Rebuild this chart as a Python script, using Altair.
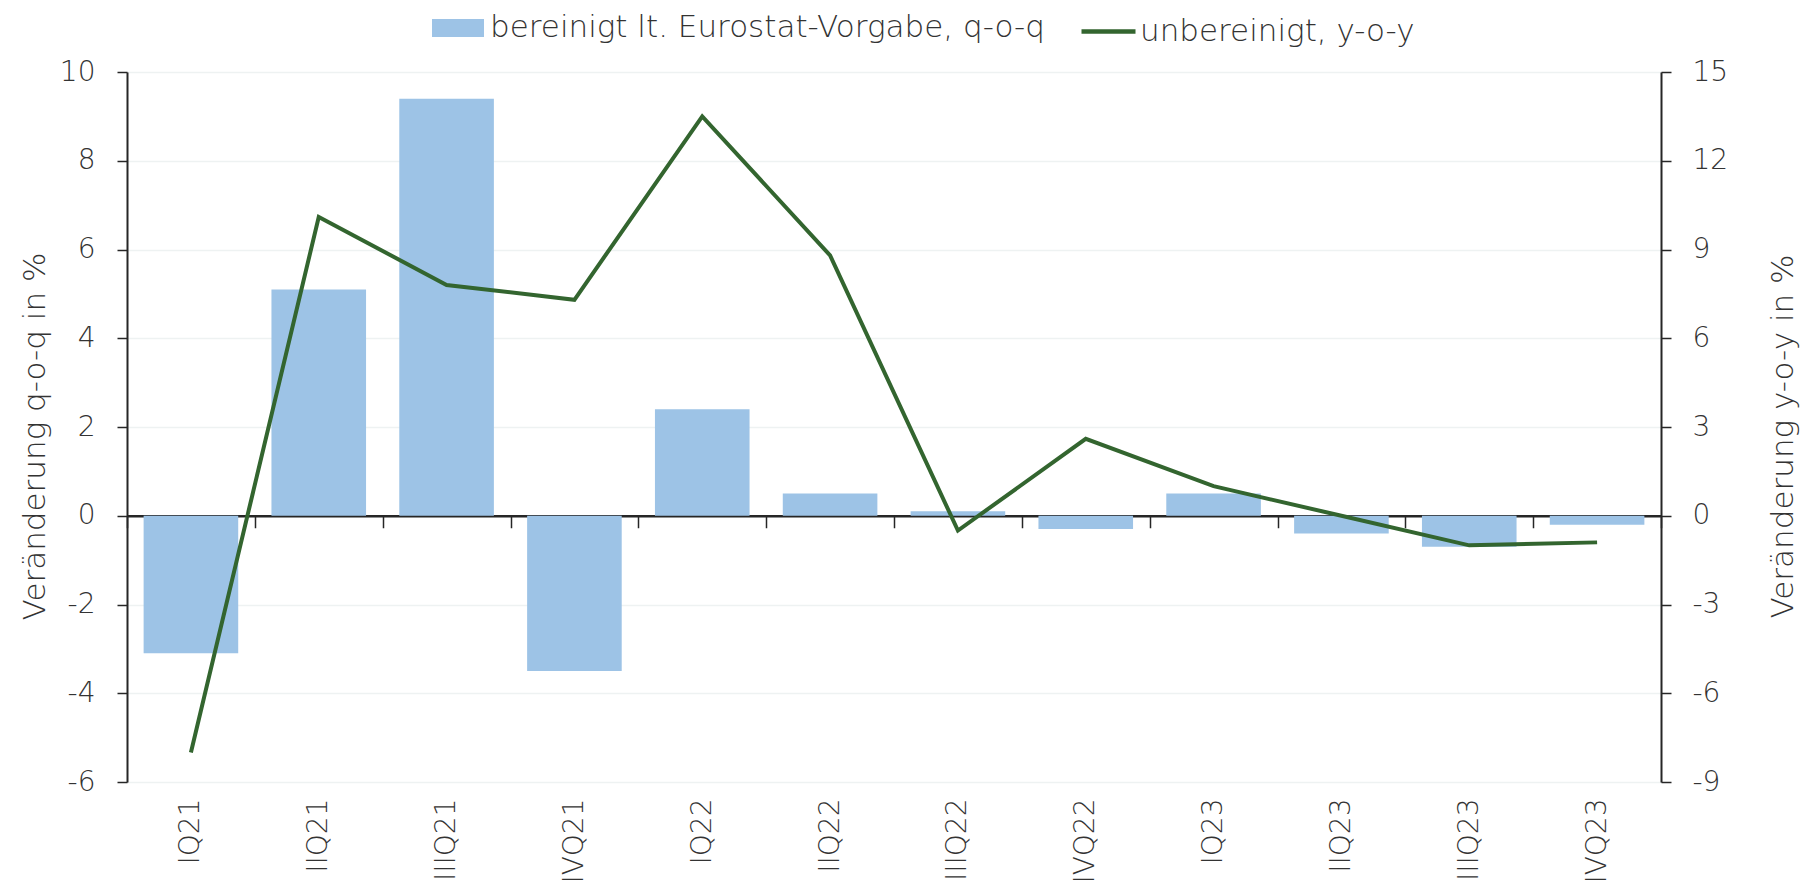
import altair as alt
import pandas as pd

quarters = ["IQ21", "IIQ21", "IIIQ21", "IVQ21", "IQ22", "IIQ22",
            "IIIQ22", "IVQ22", "IQ23", "IIQ23", "IIIQ23", "IVQ23"]
qoq = [-3.1, 5.1, 9.4, -3.5, 2.4, 0.5, 0.1, -0.3, 0.5, -0.4, -0.7, -0.2]
yoy = [-8.0, 10.1, 7.8, 7.3, 13.5, 8.8, -0.5, 2.6, 1.0, 0.0, -1.0, -0.9]
left_ticks = [-6, -4, -2, 0, 2, 4, 6, 8, 10]
right_ticks = [-9, -6, -3, 0, 3, 6, 9, 12, 15]
bar_name = "bereinigt lt. Eurostat-Vorgabe, q-o-q"
line_name = "unbereinigt, y-o-y"
left_title = "Veränderung q-o-q in %"
right_title = "Veränderung y-o-y in %"

df = pd.DataFrame({"q": quarters, "qoq": qoq, "yoy": yoy,
                   "bar": bar_name, "line": line_name})

FONT = "DejaVu Sans"
FW = 200
TXT = "#333333"
AX = "#262626"
BAR = "#9DC3E6"
LINE = "#33652F"
W, H = 1534, 710
FS = 28
LFS = 31
TFS = 31

x_enc = alt.X(
    "q:N", sort=quarters,
    scale=alt.Scale(paddingInner=0, paddingOuter=0),
    axis=alt.Axis(
        title=None, labelAngle=270, labelAlign="right", labelBaseline="middle",
        offset=-(H * 6 / 16), tickBand="extent", tickSize=12, tickWidth=1.5,
        tickColor=AX, domainColor=AX, domainWidth=2.5,
        labelPadding=H * 6 / 16 - 12 + 20 - 4, labelFont=FONT, labelFontSize=FS,
        labelFontWeight=FW, labelColor=TXT, grid=False,
    ),
)

bars = alt.Chart(df).mark_bar(width=alt.RelativeBandSize(0.74)).encode(
    x=x_enc,
    y=alt.Y("qoq:Q",
            scale=alt.Scale(domain=[-6, 10], nice=False, zero=False),
            axis=alt.Axis(values=left_ticks, title=left_title, orient="left",
                          labelExpr="'' + datum.value",
                          grid=True, gridColor="#EEF2F2", gridWidth=1.5,
                          tickSize=10, tickWidth=1.5, tickColor=AX,
                          domainColor=AX, domainWidth=2,
                          labelPadding=22, labelFont=FONT, labelFontSize=FS,
                          labelFontWeight=FW, labelColor=TXT,
                          titleFont=FONT, titleFontSize=TFS,
                          titleFontWeight=FW, titleColor=TXT,
                          titleAngle=270, titleBaseline="middle",
                          titleX=-92, titleY=H / 2 + 9)),
    fill=alt.Fill("bar:N", scale=alt.Scale(domain=[bar_name], range=[BAR]),
                  legend=alt.Legend(title=None, orient="none", legendX=305,
                                    legendY=-70,
                                    symbolType="M-1,-0.35L1,-0.35L1,0.35L-1,0.35Z",
                                    symbolSize=2704, symbolStrokeWidth=0,
                                    labelFont=FONT, labelFontSize=LFS,
                                    labelFontWeight=FW, labelLimit=0,
                                    labelColor=TXT, labelOffset=6, padding=0)),
)

line = alt.Chart(df).mark_line(strokeWidth=4).encode(
    x=alt.X("q:N", sort=quarters),
    y=alt.Y("yoy:Q",
            scale=alt.Scale(domain=[-9, 15], nice=False, zero=False),
            axis=alt.Axis(values=right_ticks, title=right_title, orient="right",
                          labelExpr="'' + datum.value",
                          grid=False, tickSize=10, tickWidth=1.5, tickColor=AX,
                          domainColor=AX, domainWidth=2,
                          labelPadding=21, labelFont=FONT, labelFontSize=FS,
                          labelFontWeight=FW, labelColor=TXT,
                          titleFont=FONT, titleFontSize=TFS,
                          titleFontWeight=FW, titleColor=TXT,
                          titleAngle=270, titleBaseline="middle",
                          titleX=122, titleY=H / 2 + 9)),
    stroke=alt.Stroke("line:N", scale=alt.Scale(domain=[line_name], range=[LINE]),
                      legend=alt.Legend(title=None, orient="none", legendX=952,
                                        legendY=-70, symbolType="stroke",
                                        symbolSize=2916, symbolStrokeWidth=4.5,
                                        labelFont=FONT, labelFontSize=LFS,
                                        labelFontWeight=FW, labelLimit=0,
                                        labelColor=TXT, labelOffset=2, padding=0)),
)

chart = alt.layer(bars, line).resolve_scale(
    y="independent", fill="independent", stroke="independent"
).properties(
    width=W, height=H,
    autosize=alt.AutoSizeParams(type="none"),
    padding={"left": 119, "top": 64, "right": 140, "bottom": 106},
).configure_view(stroke=None).configure(background="white")

chart.save("out.html", embed_options={"renderer": "svg", "actions": False})
